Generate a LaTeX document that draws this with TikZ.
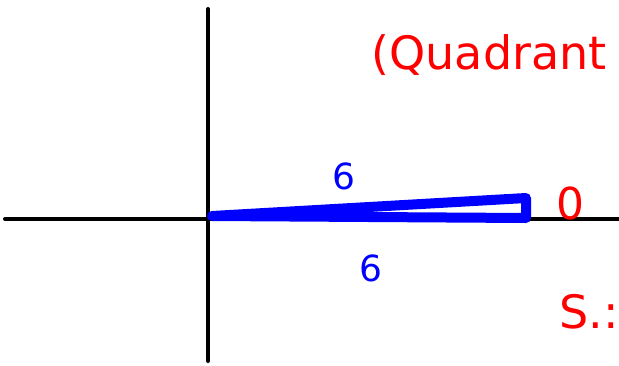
\documentclass[tikz,border=0pt]{standalone}
\usepackage{fontspec}
\setmainfont{DejaVu Sans}
\begin{document}
\begin{tikzpicture}[x=1pt,y=-1pt,
  axis/.style={line width=4pt,black,line cap=round},
  tri/.style={line width=10pt,blue,line join=round},
  bluelbl/.style={text=blue,font=\fontsize{36}{36}\selectfont},
  redlbl/.style={text=red,font=\fontsize{40}{40}\selectfont}]
\useasboundingbox (0,0) rectangle (619,365);
\clip (0,0) rectangle (619,365);
\coordinate (xl) at (5,219);
\coordinate (xr) at (625,219);
\coordinate (yt) at (208,9);
\coordinate (yb) at (208,361);
\draw[axis] (xl) -- (xr);
\draw[axis] (yt) -- (yb);
\coordinate (O) at (212,216);
\coordinate (A) at (526,218);
\coordinate (B) at (526,198);
\draw[tri] (O) -- (A) -- (B) -- cycle;
\node[bluelbl] (s1) at (344,176) {6};
\node[bluelbl] (s2) at (371,268) {6};
\node[redlbl,font=\fontsize{44}{44}\selectfont] (ang) at (570,203) {0};
\node[redlbl,anchor=west,font=\fontsize{46}{46}\selectfont] (q) at (368,55) {(Quadrant};
\node[redlbl,anchor=west,font=\fontsize{46}{46}\selectfont] (s) at (556,312) {S.:};
\end{tikzpicture}
\end{document}
